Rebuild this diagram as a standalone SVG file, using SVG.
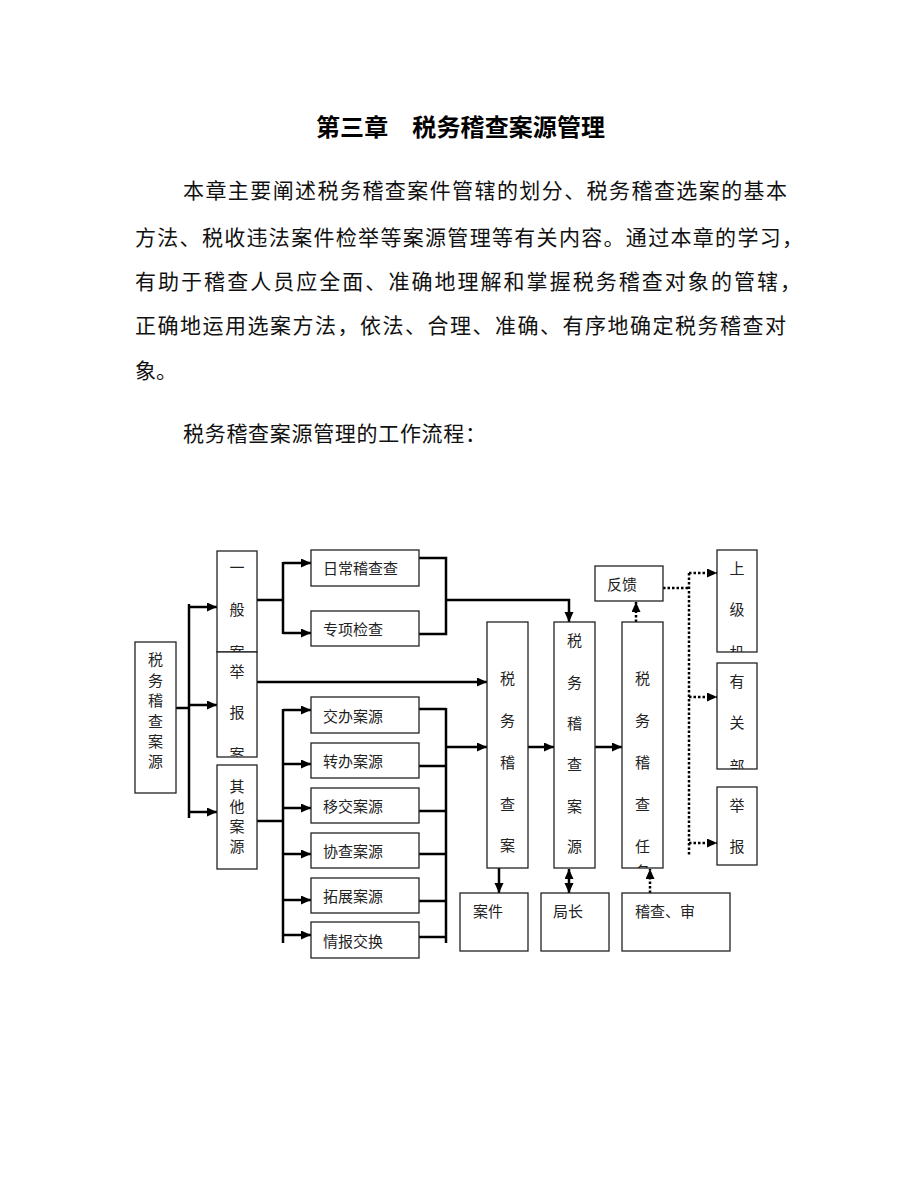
<svg xmlns="http://www.w3.org/2000/svg" width="920" height="1191" viewBox="0 0 920 1191">
<style>
.bg{fill:#fff}
.box{fill:#fff;stroke:#222;stroke-width:1.3}
.c{stroke:#000;stroke-width:2.5;fill:none}
.d{stroke:#000;stroke-width:2.5;stroke-dasharray:2.5 2;fill:none}
.t{font-family:"Noto Sans CJK SC","Noto Sans CJK JP",sans-serif;font-size:15px;fill:#222}
.v{text-anchor:middle;dominant-baseline:central}
.h{dominant-baseline:central}
.p{font-family:"Noto Sans CJK SC","Noto Sans CJK JP",sans-serif;font-size:21px;fill:#111}
.title{font-family:"Noto Sans CJK SC","Noto Sans CJK JP",sans-serif;font-size:24px;font-weight:bold;fill:#000}
</style>
<defs>
<marker id="ah" markerUnits="userSpaceOnUse" markerWidth="11" markerHeight="10" refX="10" refY="4.5" orient="auto-start-reverse" viewBox="0 0 11 10">
<path d="M0,0 L10,4.5 L0,9 z" fill="#000"/>
</marker>
<clipPath id="cp1"><rect x="217" y="551" width="40" height="101"/></clipPath>
<clipPath id="cp2"><rect x="217" y="652" width="40" height="105"/></clipPath>
<clipPath id="cp3"><rect x="622" y="622" width="41" height="246"/></clipPath>
<clipPath id="cp4"><rect x="717" y="550" width="40" height="102"/></clipPath>
<clipPath id="cp5"><rect x="717" y="663" width="40" height="106"/></clipPath>
</defs>
<rect class="bg" x="0" y="0" width="920" height="1191"/>

<g id="header">
<text class="title" x="316" y="136" textLength="289" lengthAdjust="spacing">第三章　税务稽查案源管理</text>
<text class="p" x="183" y="198" textLength="604" lengthAdjust="spacing">本章主要阐述税务稽查案件管辖的划分、税务稽查选案的基本</text>
<text class="p" x="135" y="245" textLength="668" lengthAdjust="spacing">方法、税收违法案件检举等案源管理等有关内容。通过本章的学习，</text>
<text class="p" x="135" y="289" textLength="666" lengthAdjust="spacing">有助于稽查人员应全面、准确地理解和掌握税务稽查对象的管辖，</text>
<text class="p" x="135" y="333" textLength="651" lengthAdjust="spacing">正确地运用选案方法，依法、合理、准确、有序地确定税务稽查对</text>
<text class="p" x="135" y="378">象。</text>
<text class="p" x="183" y="441" textLength="303" lengthAdjust="spacing">税务稽查案源管理的工作流程：</text>
</g>

<g id="connectors">
<path class="c" d="M176,708 H189"/>
<path class="c" d="M189,604 V818"/>
<path class="c" d="M189,607 H217" marker-end="url(#ah)"/>
<path class="c" d="M189,705 H217" marker-end="url(#ah)"/>
<path class="c" d="M189,812 H217" marker-end="url(#ah)"/>
<path class="c" d="M257,600 H283"/>
<path class="c" d="M283,562 V634"/>
<path class="c" d="M283,563 H311" marker-end="url(#ah)"/>
<path class="c" d="M283,633 H311" marker-end="url(#ah)"/>
<path class="c" d="M419,558 H446 V634 H419"/>
<path class="c" d="M446,600 H569 V622" marker-end="url(#ah)"/>
<path class="c" d="M257,682 H487" marker-end="url(#ah)"/>
<path class="c" d="M257,821 H283"/>
<path class="c" d="M283,709 V943"/>
<path class="c" d="M283,710 H311" marker-end="url(#ah)"/>
<path class="c" d="M283,764 H311" marker-end="url(#ah)"/>
<path class="c" d="M283,808 H311" marker-end="url(#ah)"/>
<path class="c" d="M283,854 H311" marker-end="url(#ah)"/>
<path class="c" d="M283,900 H311" marker-end="url(#ah)"/>
<path class="c" d="M283,935 H311" marker-end="url(#ah)"/>
<path class="c" d="M419,709 H446 M419,766 H446 M419,811 H446 M419,854 H446 M419,901 H446 M419,937 H446"/>
<path class="c" d="M446,708 V943"/>
<path class="c" d="M446,747 H487" marker-end="url(#ah)"/>
<path class="c" d="M528,747 H554" marker-end="url(#ah)"/>
<path class="c" d="M595,747 H622" marker-end="url(#ah)"/>
<path class="c" d="M499,868 V893" marker-end="url(#ah)"/>
<path class="c" d="M569,869 V893" marker-start="url(#ah)" marker-end="url(#ah)"/>
<path class="d" d="M650,893 V869" marker-end="url(#ah)"/>
<path class="d" d="M636,622 V602" marker-end="url(#ah)"/>
<path class="d" d="M663,588 H689"/>
<path class="d" d="M689,573 V855"/>
<path class="d" d="M689,573 H717" marker-end="url(#ah)"/>
<path class="d" d="M689,697 H717" marker-end="url(#ah)"/>
<path class="d" d="M689,843 H717" marker-end="url(#ah)"/>
</g>

<g id="n-source">
<rect class="box" x="135" y="642" width="41" height="151"/>
<text class="t v" x="155.5" y="658">税</text>
<text class="t v" x="155.5" y="679">务</text>
<text class="t v" x="155.5" y="699">稽</text>
<text class="t v" x="155.5" y="720">查</text>
<text class="t v" x="155.5" y="740">案</text>
<text class="t v" x="155.5" y="760">源</text>
</g>

<g id="n-general">
<rect class="box" x="217" y="551" width="40" height="101"/>
<g clip-path="url(#cp1)">
<text class="t v" x="237" y="566">一</text>
<text class="t v" x="237" y="608">般</text>
<text class="t v" x="237" y="651">案</text>
</g>
</g>

<g id="n-report">
<rect class="box" x="217" y="652" width="40" height="105"/>
<g clip-path="url(#cp2)">
<text class="t v" x="237" y="670">举</text>
<text class="t v" x="237" y="711">报</text>
<text class="t v" x="237" y="753">案</text>
</g>
</g>

<g id="n-other">
<rect class="box" x="217" y="765" width="40" height="104"/>
<text class="t v" x="237" y="785">其</text>
<text class="t v" x="237" y="805">他</text>
<text class="t v" x="237" y="825">案</text>
<text class="t v" x="237" y="845">源</text>
</g>

<g id="n-daily">
<rect class="box" x="311" y="550" width="108" height="36"/>
<text class="t h" x="323" y="567">日常稽查查</text>
</g>
<g id="n-special">
<rect class="box" x="311" y="611" width="108" height="35"/>
<text class="t h" x="323" y="628">专项检查</text>
</g>
<g id="n-jiaoban">
<rect class="box" x="311" y="697" width="108" height="36"/>
<text class="t h" x="323" y="715">交办案源</text>
</g>
<g id="n-zhuanban">
<rect class="box" x="311" y="743" width="108" height="35"/>
<text class="t h" x="323" y="760">转办案源</text>
</g>
<g id="n-yijiao">
<rect class="box" x="311" y="788" width="108" height="35"/>
<text class="t h" x="323" y="805">移交案源</text>
</g>
<g id="n-xiecha">
<rect class="box" x="311" y="833" width="108" height="35"/>
<text class="t h" x="323" y="850">协查案源</text>
</g>
<g id="n-tuozhan">
<rect class="box" x="311" y="878" width="108" height="35"/>
<text class="t h" x="323" y="895">拓展案源</text>
</g>
<g id="n-qingbao">
<rect class="box" x="311" y="922" width="108" height="36"/>
<text class="t h" x="323" y="940">情报交换</text>
</g>

<g id="n-case">
<rect class="box" x="487" y="622" width="41" height="246"/>
<text class="t v" x="507.5" y="677">税</text>
<text class="t v" x="507.5" y="719">务</text>
<text class="t v" x="507.5" y="761">稽</text>
<text class="t v" x="507.5" y="803">查</text>
<text class="t v" x="507.5" y="844">案</text>
</g>

<g id="n-casesource">
<rect class="box" x="554" y="622" width="41" height="246"/>
<text class="t v" x="574.5" y="639">税</text>
<text class="t v" x="574.5" y="681">务</text>
<text class="t v" x="574.5" y="722">稽</text>
<text class="t v" x="574.5" y="763">查</text>
<text class="t v" x="574.5" y="805">案</text>
<text class="t v" x="574.5" y="845">源</text>
</g>

<g id="n-task">
<rect class="box" x="622" y="622" width="41" height="246"/>
<g clip-path="url(#cp3)">
<text class="t v" x="642.5" y="677">税</text>
<text class="t v" x="642.5" y="719">务</text>
<text class="t v" x="642.5" y="761">稽</text>
<text class="t v" x="642.5" y="803">查</text>
<text class="t v" x="642.5" y="845">任</text>
<text class="t v" x="642.5" y="870">务</text>
</g>
</g>

<g id="n-feedback">
<rect class="box" x="595" y="566" width="68" height="35"/>
<text class="t h" x="607" y="583">反馈</text>
</g>

<g id="n-superior">
<rect class="box" x="717" y="550" width="40" height="102"/>
<g clip-path="url(#cp4)">
<text class="t v" x="737" y="567">上</text>
<text class="t v" x="737" y="608">级</text>
<text class="t v" x="737" y="651">机</text>
</g>
</g>
<g id="n-dept">
<rect class="box" x="717" y="663" width="40" height="106"/>
<g clip-path="url(#cp5)">
<text class="t v" x="737" y="680">有</text>
<text class="t v" x="737" y="721">关</text>
<text class="t v" x="737" y="765">部</text>
</g>
</g>
<g id="n-informant">
<rect class="box" x="717" y="787" width="40" height="78"/>
<text class="t v" x="737" y="804">举</text>
<text class="t v" x="737" y="845">报</text>
</g>

<g id="n-anjian">
<rect class="box" x="460" y="893" width="68" height="58"/>
<text class="t h" x="473" y="910">案件</text>
</g>
<g id="n-juzhang">
<rect class="box" x="541" y="893" width="68" height="58"/>
<text class="t h" x="553" y="910">局长</text>
</g>
<g id="n-jicha">
<rect class="box" x="622" y="893" width="108" height="58"/>
<text class="t h" x="635" y="910">稽查、审</text>
</g>
</svg>
